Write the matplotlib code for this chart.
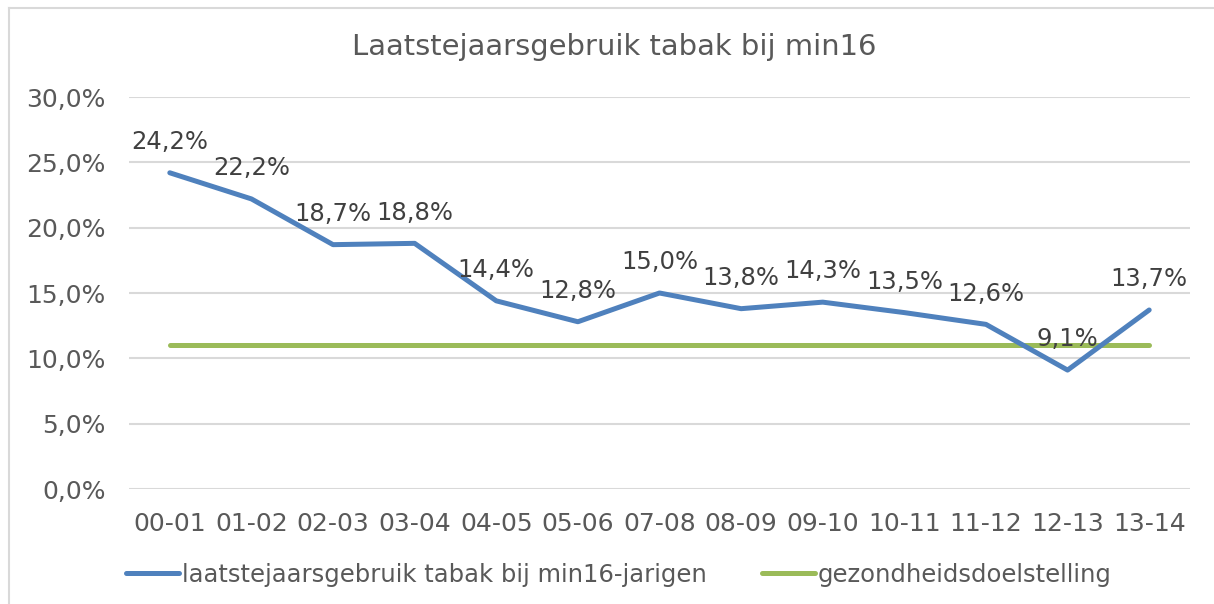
import matplotlib
matplotlib.use("Agg")
import matplotlib.pyplot as plt
from matplotlib.lines import Line2D
from matplotlib.ticker import FuncFormatter

categories = ["00-01", "01-02", "02-03", "03-04", "04-05", "05-06", "07-08",
              "08-09", "09-10", "10-11", "11-12", "12-13", "13-14"]
usage = [24.2, 22.2, 18.7, 18.8, 14.4, 12.8, 15.0, 13.8, 14.3, 13.5, 12.6, 9.1, 13.7]
target = [11.0] * len(categories)
title = "Laatstejaarsgebruik tabak bij min16"
series_names = ["laatstejaarsgebruik tabak bij min16-jarigen", "gezondheidsdoelstelling"]

TXT = "#595959"
plt.rcParams['font.family'] = ['DejaVu Sans']

fig = plt.figure(figsize=(12.14, 6.04), dpi=100)
bx = 9 / 1214
by = 1 - 7.5 / 604
fig.lines.append(Line2D([bx, 1.0], [by, by], transform=fig.transFigure,
                        color="#D9D9D9", linewidth=1.5))
fig.lines.append(Line2D([bx, bx], [0.0, by], transform=fig.transFigure,
                        color="#D9D9D9", linewidth=1.5))
ax = fig.add_axes([129 / 1214, 1 - 489 / 604, (1190 - 129) / 1214, (489 - 97) / 604])

x = list(range(len(categories)))
l1, = ax.plot(x, usage, color="#4F81BD", linewidth=3.6, solid_capstyle="round",
              solid_joinstyle="round", zorder=3)
l2, = ax.plot(x, target, color="#9BBB59", linewidth=3.6, solid_capstyle="round", zorder=2)

for xi, v in zip(x, usage):
    ax.annotate(f"{v:.1f}%".replace(".", ","), (xi, v), xytext=(0, 13.5),
                textcoords="offset points", ha="center", va="bottom",
                fontsize=17.5, color="#404040", zorder=4)

ax.set_xlim(-0.5, len(categories) - 0.5)
ax.set_ylim(0, 30)
ax.set_yticks([0, 5, 10, 15, 20, 25, 30])
ax.yaxis.set_major_formatter(FuncFormatter(lambda v, p: f"{v:.1f}%".replace(".", ",")))
ax.set_xticks(x)
ax.set_xticklabels(categories)
ax.tick_params(axis="both", length=0, labelsize=18, labelcolor=TXT)
ax.tick_params(axis="x", pad=16.5)
ax.tick_params(axis="y", pad=17)
ax.grid(axis="y", color="#D9D9D9", linewidth=1.5)
ax.set_axisbelow(True)
for s in ax.spines.values():
    s.set_visible(False)

fig.text(614 / 1214, 1 - 47 / 604, title, ha="center", va="center", fontsize=20.9, color=TXT)

fig.legend([l1, l2], series_names, loc="center",
           bbox_to_anchor=(0.5 + 12 / 1214, 1 - 575 / 604),
           ncol=2, frameon=False, fontsize=17.5, handlelength=2.18, handletextpad=0.12,
           columnspacing=2.26, labelcolor=TXT)

fig.savefig("out.png", dpi=100, facecolor="white")
